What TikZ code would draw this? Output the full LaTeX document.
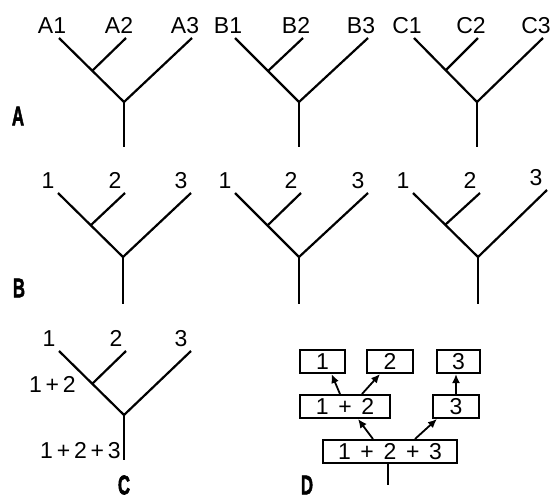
\documentclass[tikz,border=0pt]{standalone}
\usepackage{fontspec}
\usepackage{graphicx}
\usepackage{tikz}
\usetikzlibrary{arrows.meta}
\setmainfont{Liberation Sans}
\newfontfamily\panelfont[FakeBold=2.5]{Liberation Sans}
\newcommand{\gp}{\hspace{0.42em}}
\newcommand{\panel}[1]{\scalebox{0.62}[1]{\fontsize{27}{28}\panelfont\bfseries #1}}

\begin{document}
\begin{tikzpicture}[x=1pt,y=-1pt]
\tikzset{branch/.style={line width=2.2pt},
  leaf/.style={anchor=base, inner sep=0pt, yshift=5pt, xshift=-7pt, font=\fontsize{23}{26}\selectfont},
  digit/.style={leaf, xshift=-3pt},
  side/.style={anchor=base east, inner sep=0pt, font=\fontsize{23}{26}\selectfont},
  box/.style={draw, line width=2pt, minimum height=23pt, inner sep=0pt, font=\fontsize{23}{26}\selectfont},
  up/.style={line width=1.8pt, -{Latex[length=9pt,width=8pt]}},
  plab/.style={inner sep=0pt}}
\useasboundingbox (0,0) rectangle (555,499);
% row A
\coordinate (ar) at (124,102); \coordinate (a1) at (59,38); \coordinate (ai) at (92,71);
\coordinate (a2) at (126,38); \coordinate (a3) at (192,38); \coordinate (ab) at (124,147);
\draw[branch] (a1) -- (ar) -- (a3); \draw[branch] (ai) -- (a2); \draw[branch] (ar) -- (ab);
\node[leaf] (la1) at (a1) {A1}; \node[leaf] (la2) at (a2) {A2}; \node[leaf] (la3) at (a3) {A3};
\coordinate (br) at (299,102); \coordinate (b1) at (235,38); \coordinate (bi) at (268,71);
\coordinate (b2) at (303,38); \coordinate (b3) at (368,38); \coordinate (bb) at (299,147);
\draw[branch] (b1) -- (br) -- (b3); \draw[branch] (bi) -- (b2); \draw[branch] (br) -- (bb);
\node[leaf] (lb1) at (b1) {B1}; \node[leaf] (lb2) at (b2) {B2}; \node[leaf] (lb3) at (b3) {B3};
\coordinate (cr) at (477,102); \coordinate (c1) at (414,38); \coordinate (ci) at (446,70);
\coordinate (c2) at (478,38); \coordinate (c3) at (543,38); \coordinate (cb) at (477,147);
\draw[branch] (c1) -- (cr) -- (c3); \draw[branch] (ci) -- (c2); \draw[branch] (cr) -- (cb);
\node[leaf] (lc1) at (c1) {C1}; \node[leaf] (lc2) at (c2) {C2}; \node[leaf] (lc3) at (c3) {C3};
\node[plab] (pa) at (18,116) {\panel{A}};
% row B
\coordinate (dr) at (123,257); \coordinate (d1) at (58,193); \coordinate (di) at (91,225);
\coordinate (d2) at (125,193); \coordinate (d3) at (191,193); \coordinate (db) at (123,304);
\draw[branch] (d1) -- (dr) -- (d3); \draw[branch] (di) -- (d2); \draw[branch] (dr) -- (db);
\node[digit] (ld1) at (d1) {1}; \node[digit] (ld2) at (d2) {2}; \node[digit] (ld3) at (d3) {3};
\coordinate (er) at (299,257); \coordinate (e1) at (235,193); \coordinate (ei) at (268,225);
\coordinate (e2) at (301,193); \coordinate (e3) at (368,193); \coordinate (eb) at (299,304);
\draw[branch] (e1) -- (er) -- (e3); \draw[branch] (ei) -- (e2); \draw[branch] (er) -- (eb);
\node[digit] (le1) at (e1) {1}; \node[digit] (le2) at (e2) {2}; \node[digit] (le3) at (e3) {3};
\coordinate (fr) at (478,257); \coordinate (f1) at (413,193); \coordinate (fi) at (445,225);
\coordinate (f2) at (480,193); \coordinate (f3) at (547,190); \coordinate (fb) at (478,304);
\draw[branch] (f1) -- (fr) -- (f3); \draw[branch] (fi) -- (f2); \draw[branch] (fr) -- (fb);
\node[digit] (lf1) at (f1) {1}; \node[digit] (lf2) at (f2) {2}; \node[digit, xshift=-1pt] (lf3) at (f3) {3};
\node[plab] (pb) at (19,288) {\panel{B}};
% row C
\coordinate (gr) at (124,415); \coordinate (g1) at (59,351); \coordinate (gi) at (92,384);
\coordinate (g2) at (126,351); \coordinate (g3) at (191,351); \coordinate (gb) at (124,460);
\draw[branch] (g1) -- (gr) -- (g3); \draw[branch] (gi) -- (g2); \draw[branch] (gr) -- (gb);
\node[digit] (lg1) at (g1) {1}; \node[digit] (lg2) at (g2) {2}; \node[digit] (lg3) at (g3) {3};
\node[side] (lgi) at (76,392) {1\,+\,2};
\node[side] (lgb) at (121,458) {1\,+\,2\,+\,3};
\node[plab] (pc) at (124,485) {\panel{C}};
% panel D
\node[box, minimum width=45pt] (n1) at (322.5,361.5) {1};
\node[box, minimum width=46pt] (n2) at (390,361.5) {2};
\node[box, minimum width=43pt] (n3) at (458.5,361.5) {3};
\node[box, minimum width=90pt] (n12) at (345,406.5) {1\gp+\gp2};
\node[box, minimum width=46pt] (m3) at (456,406.5) {3};
\node[box, minimum width=134pt] (n123) at (390,451.5) {1\gp+\gp2\gp+\gp3};
\coordinate (stem) at (388,485);
\draw[up] ([xshift=-5pt]n12.north) -- ([xshift=9pt]n1.south);
\draw[up] ([xshift=17pt]n12.north) -- ([xshift=-10pt]n2.south);
\draw[up] (m3.north) -- (m3.north |- n3.south);
\draw[up] ([xshift=-17pt]n123.north) -- ([xshift=13pt]n12.south);
\draw[up] ([xshift=25pt]n123.north) -- ([xshift=-19pt]m3.south);
\draw[line width=1.6pt] (n123.south -| stem) -- (stem);
\node[plab] (pd) at (307,485) {\panel{D}};
\end{tikzpicture}
\end{document}
